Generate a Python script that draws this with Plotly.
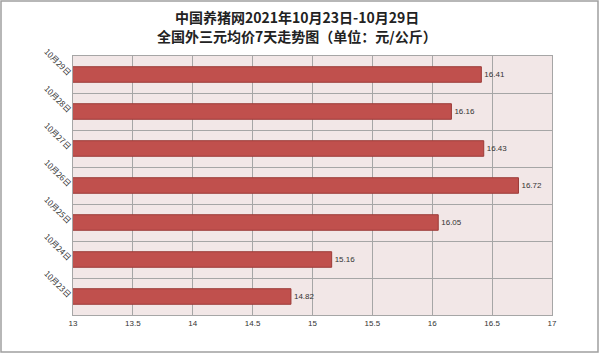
import plotly.graph_objects as go

dates = ["10月23日", "10月24日", "10月25日", "10月26日", "10月27日", "10月28日", "10月29日"]
prices = [14.82, 15.16, 16.05, 16.72, 16.43, 16.16, 16.41]
x_ticks = [13, 13.5, 14, 14.5, 15, 15.5, 16, 16.5, 17]
x_tick_text = ["13", "13.5", "14", "14.5", "15", "15.5", "16", "16.5", "17"]
title_lines = ["中国养猪网2021年10月23日-10月29日", "全国外三元均价7天走势图（单位：元/公斤）"]

W, H = 600, 354
L, R, T, B = 73, 48, 56, 39
pw, ph = W - L - R, H - T - B

def py(pix):
    return (T + ph - pix) / ph

fig = go.Figure()
fig.add_trace(go.Bar(
    y=dates, x=prices, orientation="h",
    marker=dict(color="#C0504D", line=dict(color="#9C3B38", width=1)),
    width=0.42,
    text=[f"{v:.2f}" for v in prices], textposition="outside",
    textfont=dict(size=8, color="#333333", family="Liberation Sans"),
    cliponaxis=False,
))

fig.update_layout(
    width=W, height=H,
    margin=dict(l=L, r=R, t=T, b=B),
    paper_bgcolor="white",
    plot_bgcolor="#F2E7E7",
    showlegend=False,
    xaxis=dict(range=[13, 17], tickvals=x_ticks, ticktext=x_tick_text,
               showgrid=True, gridcolor="#A6A6A6", gridwidth=1,
               tickfont=dict(size=8, color="#333333", family="Liberation Sans"),
               showline=True, linecolor="#A6A6A6", mirror=True, zeroline=False,
               ticks="", ticklen=0),
    yaxis=dict(type="category", categoryorder="array", categoryarray=dates,
               showgrid=False, tickangle=45,
               tickfont=dict(size=8, color="#333333", family="Noto Sans CJK SC"),
               showline=True, linecolor="#A6A6A6", mirror=True, ticks=""),
    yaxis2=dict(overlaying="y", range=[-0.5, len(dates) - 0.5], tick0=-0.5, dtick=1,
                showgrid=True, gridcolor="#A6A6A6", gridwidth=1,
                showticklabels=False, zeroline=False, side="right"),
)
fig.add_trace(go.Scatter(x=[13], y=[0], yaxis="y2", mode="markers",
                         marker=dict(opacity=0), hoverinfo="skip", showlegend=False))

for i, (txt, pix) in enumerate(zip(title_lines, [17, 36])):
    fig.add_annotation(text="<b>" + txt + "</b>", xref="paper", yref="paper",
                       x=(297 - L) / pw, y=py(pix), xanchor="center", yanchor="middle",
                       showarrow=False,
                       font=dict(size=14, family="Noto Sans CJK SC", color="#222222"))

fig.add_shape(type="rect", xref="paper", yref="paper",
              x0=(1 - L) / pw, x1=(W - 2 - L) / pw,
              y0=py(H - 2), y1=py(1),
              line=dict(color="#A0A0A0", width=1.5), fillcolor="rgba(0,0,0,0)", layer="below")

fig.write_html("out.html")
